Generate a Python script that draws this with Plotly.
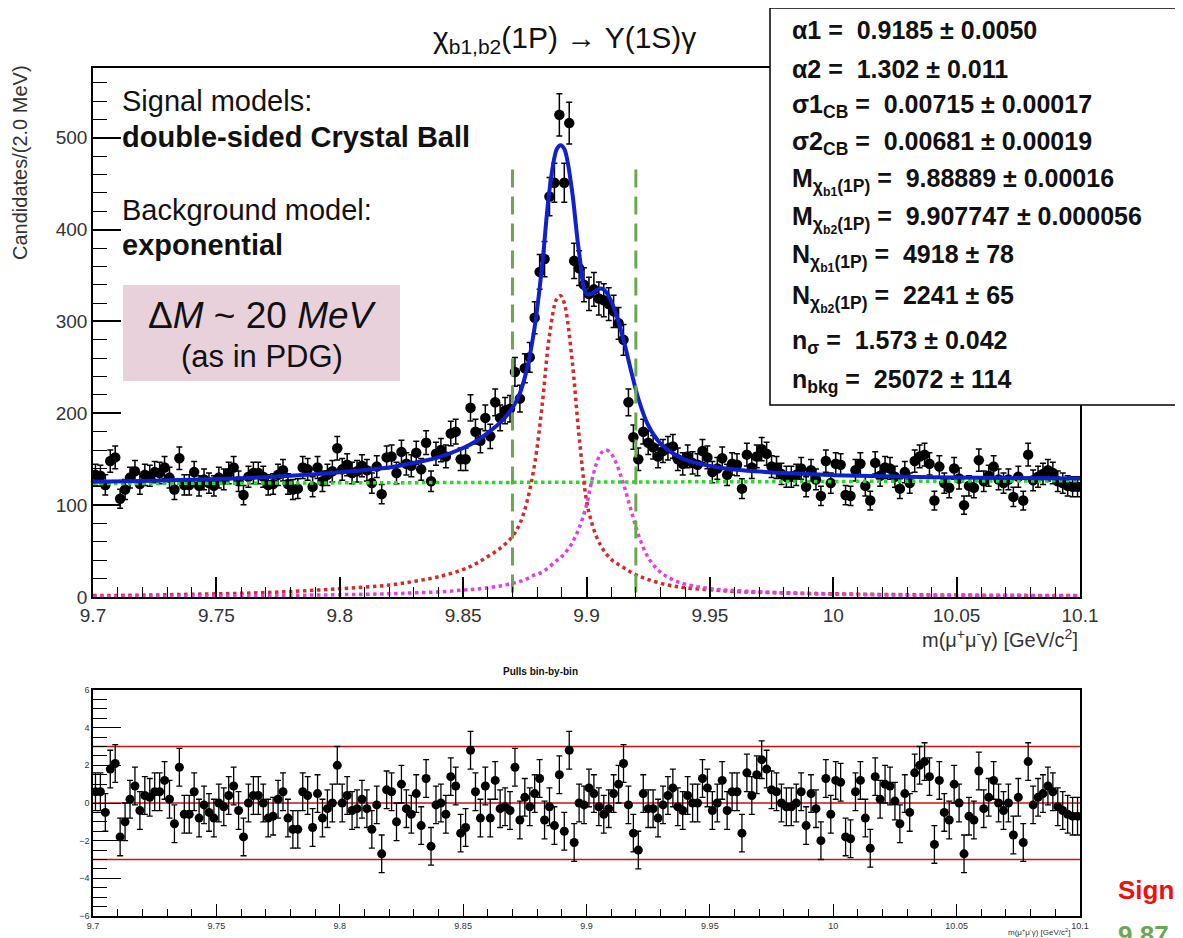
import plotly.graph_objects as go

# ---------------- data ----------------
bin_lo = 9.7
bin_width = 0.002
counts = [
    133, 132, 122, 148, 152, 107, 117, 130, 137, 123,
    133, 132, 136, 135, 141, 130, 117, 151, 122, 122,
    136, 121, 128, 124, 121, 130, 128, 135, 141, 126,
    111, 131, 135, 135, 131, 122, 123, 133, 138, 123,
    117, 118, 141, 139, 120, 141, 126, 133, 137, 162,
    139, 144, 135, 137, 143, 138, 124, 142, 112, 152,
    153, 135, 158, 145, 143, 157, 139, 168, 126, 156,
    160, 153, 178, 180, 150, 150, 206, 180, 170, 195,
    175, 212, 195, 203, 205, 245, 216, 249, 261, 304,
    354, 368, 436, 451, 525, 451, 516, 366, 358, 340,
    330, 335, 325, 323, 319, 311, 298, 280, 212, 174,
    150, 180, 168, 163, 153, 159, 162, 164, 150, 145,
    153, 146, 144, 159, 152, 136, 140, 151, 133, 145,
    144, 118, 155, 141, 153, 161, 156, 142, 141, 134,
    131, 131, 133, 140, 120, 138, 128, 110, 148, 124,
    145, 144, 111, 110, 138, 145, 121, 105, 146, 132,
    141, 140, 131, 118, 136, 124, 148, 153, 155, 145,
    105, 142, 124, 119, 140, 129, 100, 121, 119, 149,
    126, 132, 142, 128, 124, 128, 109, 131, 105, 155,
    127, 131, 134, 138, 135, 126, 124, 121, 120, 120,
]
pulls = [
    0.6, 0.6, -0.5, 1.8, 2.1, -1.8, -1.0, 0.2, 0.9, -0.4,
    0.4, 0.3, 0.6, 0.6, 1.2, 0.2, -1.1, 1.9, -0.6, -0.6,
    0.6, -0.8, -0.1, -0.5, -0.8, 0.0, -0.2, 0.4, 0.9, -0.4,
    -1.8, 0.0, 0.4, 0.4, 0.0, -0.8, -0.7, 0.2, 0.6, -0.8,
    -1.4, -1.4, 0.6, 0.4, -1.3, 0.5, -0.8, -0.3, 0.0, 2.0,
    0.0, 0.4, -0.4, -0.3, 0.2, -0.3, -1.4, -0.1, -2.7, 0.7,
    0.6, -1.0, 1.0, -0.3, -0.6, 0.5, -1.2, 1.3, -2.3, -0.1,
    0.0, -0.6, 1.4, 0.9, -1.6, -1.3, 2.8, 0.6, -0.8, 0.9,
    -0.8, 1.2, -0.3, -0.2, -0.4, 1.9, -0.9, 0.3, -0.2, 0.5,
    1.3, -0.9, -0.2, -1.2, 1.5, -1.5, 2.8, -2.1, 0.0, -0.1,
    0.8, 0.5, -0.2, -0.6, -0.3, 0.5, 1.0, 2.1, -0.1, -1.6,
    -2.5, 0.5, -0.3, -0.3, -0.8, -0.1, 0.4, 0.8, -0.2, -0.4,
    0.4, 0.0, 0.0, 1.3, 0.8, -0.4, 0.0, 1.2, -0.4, 0.6,
    0.6, -1.6, 1.6, 0.4, 1.5, 2.3, 1.8, 0.7, 0.6, 0.0,
    -0.2, -0.2, 0.0, 0.6, -1.2, 0.5, -0.3, -2.0, 1.3, -0.6,
    1.2, 1.1, -1.8, -1.9, 0.6, 1.2, -0.8, -2.4, 1.4, 0.2,
    1.0, 0.9, 0.1, -1.1, 0.5, -0.5, 1.6, 2.0, 2.2, 1.4,
    -2.2, 1.2, -0.5, -0.9, 1.0, 0.0, -2.7, -0.7, -0.9, 1.7,
    -0.3, 0.3, 1.2, 0.0, -0.4, 0.0, -1.7, 0.3, -2.1, 2.2,
    -0.1, 0.3, 0.5, 0.9, 0.6, -0.2, -0.4, -0.6, -0.7, -0.7,
]

fit_x = [9.70, 9.72, 9.74, 9.76, 9.78, 9.80, 9.82, 9.83, 9.84, 9.85,
         9.855, 9.86, 9.865, 9.87, 9.873, 9.876, 9.879, 9.882, 9.885, 9.888,
         9.8895, 9.891, 9.894, 9.897, 9.900, 9.902, 9.904, 9.906, 9.908, 9.910,
         9.912, 9.915, 9.918, 9.921, 9.925, 9.93, 9.935, 9.94, 9.95, 9.96,
         9.98, 10.00, 10.03, 10.06, 10.1]
chib1_curve = [1.5, 2.0, 3.0, 4.0, 6.0, 9.0, 13.0, 17.0, 22.0, 30.0,
               36.0, 44.0, 53.0, 66.0, 80.0, 105.0, 145.0, 208.0, 285.0, 325.0,
               328.0, 320.0, 262.0, 175.0, 105.0, 82.0, 66.0, 55.0, 47.0, 41.0,
               37.0, 32.0, 27.0, 23.0, 19.0, 15.0, 12.0, 10.0, 8.0, 6.0,
               4.5, 3.5, 2.5, 2.0, 1.5]
chib2_curve = [0.5, 0.7, 1.0, 1.3, 1.8, 2.5, 3.5, 4.5, 5.5, 7.5,
               8.5, 10.0, 12.0, 15.0, 17.0, 20.0, 24.0, 27.0, 33.0, 40.0,
               43.0, 47.0, 58.0, 75.0, 100.0, 125.0, 145.0, 157.0, 160.0, 156.0,
               146.0, 123.0, 95.0, 68.0, 43.0, 27.0, 19.0, 14.0, 9.0, 7.0,
               4.5, 3.0, 2.0, 1.5, 1.0]
bkg_curve = [123.5, 123.7, 123.8, 124.0, 124.1, 124.3, 124.5, 124.6, 124.6, 124.7,
             124.8, 124.8, 124.8, 124.9, 124.9, 124.9, 125.0, 125.0, 125.0, 125.1,
             125.1, 125.1, 125.1, 125.2, 125.2, 125.2, 125.2, 125.3, 125.3, 125.3,
             125.3, 125.3, 125.4, 125.4, 125.5, 125.5, 125.6, 125.6, 125.8, 125.9,
             126.0, 126.2, 126.3, 126.3, 126.5]
total_curve = [125.5, 126.4, 127.8, 129.3, 131.9, 135.8, 141.0, 146.1, 152.1, 162.2,
               169.3, 178.8, 189.8, 205.9, 221.9, 249.9, 294.0, 360.0, 443.0, 488.0,
               492.0, 488.0, 445.0, 375.0, 330.0, 330.0, 334.0, 336.0, 332.0, 322.0,
               308.0, 280.0, 247.0, 216.0, 187.0, 167.0, 156.5, 149.6, 142.8, 138.9,
               135.0, 132.7, 130.9, 129.8, 129.0]

window_edges = [9.87, 9.92]
window_y = [5, 470]
pull_levels = [-3, 0, 3]

x_ticks = [9.7, 9.75, 9.8, 9.85, 9.9, 9.95, 10.0, 10.05, 10.1]
x_tick_text = ["9.7", "9.75", "9.8", "9.85", "9.9", "9.95", "10", "10.05", "10.1"]

stat_lines = [
    "α1 =  0.9185 ± 0.0050",
    "α2 =  1.302 ± 0.011",
    "σ1<sub>CB</sub> =  0.00715 ± 0.00017",
    "σ2<sub>CB</sub> =  0.00681 ± 0.00019",
    "M<sub>χ<sub>b1</sub>(1P)</sub> =  9.88889 ± 0.00016",
    "M<sub>χ<sub>b2</sub>(1P)</sub> =  9.907747 ± 0.000056",
    "N<sub>χ<sub>b1</sub>(1P)</sub> =  4918 ± 78",
    "N<sub>χ<sub>b2</sub>(1P)</sub> =  2241 ± 65",
    "n<sub>σ</sub> =  1.573 ± 0.042",
    "n<sub>bkg</sub> =  25072 ± 114",
]

# ---------------- figure ----------------
W, H = 1183, 938
OFF = 8  # page body margin of the html page


def px(x):
    return (x - OFF) / W


def py(y):
    return 1 - (y - OFF) / H


centers = [bin_lo + bin_width * (i + 0.5) for i in range(len(counts))]
errs = [c ** 0.5 for c in counts]

FONT = "Liberation Sans, Arial, sans-serif"
fig = go.Figure()

fig.add_trace(go.Scatter(
    x=centers, y=counts, mode="markers",
    marker=dict(color="black", size=10.5),
    error_y=dict(type="data", array=errs, color="black", thickness=1.5, width=3),
    xaxis="x", yaxis="y", showlegend=False))

fig.add_trace(go.Scatter(x=fit_x, y=bkg_curve, mode="lines",
                         line=dict(color="#22dd22", width=3.5, dash="dot"),
                         xaxis="x", yaxis="y", showlegend=False))
fig.add_trace(go.Scatter(x=fit_x, y=chib1_curve, mode="lines", line_shape="spline",
                         line=dict(color="#d42a2a", width=3.5, dash="dot"),
                         xaxis="x", yaxis="y", showlegend=False))
fig.add_trace(go.Scatter(x=fit_x, y=chib2_curve, mode="lines", line_shape="spline",
                         line=dict(color="#e040e0", width=3.5, dash="dot"),
                         xaxis="x", yaxis="y", showlegend=False))
fig.add_trace(go.Scatter(x=fit_x, y=total_curve, mode="lines", line_shape="spline",
                         line=dict(color="#1020cc", width=4),
                         xaxis="x", yaxis="y", showlegend=False))
for xe in window_edges:
    fig.add_trace(go.Scatter(x=[xe, xe], y=window_y, mode="lines",
                             line=dict(color="#6aa84f", width=3, dash="18px,9px"),
                             xaxis="x", yaxis="y", showlegend=False))

# pulls
for lvl in pull_levels:
    fig.add_trace(go.Scatter(x=[x_ticks[0], x_ticks[-1]], y=[lvl, lvl], mode="lines",
                             line=dict(color="#cc1111", width=1.5),
                             xaxis="x2", yaxis="y2", showlegend=False))
fig.add_trace(go.Scatter(
    x=centers, y=pulls, mode="markers",
    marker=dict(color="black", size=9),
    error_y=dict(type="constant", value=1, color="black", thickness=1.3, width=3),
    xaxis="x2", yaxis="y2", showlegend=False))

axis_common = dict(showgrid=False, zeroline=False, showline=True, mirror=True,
                   linecolor="black", linewidth=1.5, ticks="inside", tickcolor="black",
                   automargin=False)

fig.update_layout(
    width=W, height=H, margin=dict(l=0, r=0, t=0, b=0, autoexpand=False),
    paper_bgcolor="white", plot_bgcolor="white",
    font=dict(family=FONT, color="#222"),
    xaxis=dict(domain=[px(93), px(1080)], range=[9.7, 10.1], anchor="y",
               tickvals=x_ticks, ticktext=x_tick_text, ticklen=20, tickwidth=1.5,
               tickfont=dict(size=19, family=FONT, color="#333"),
               minor=dict(ticks="inside", dtick=0.01, ticklen=10, tickcolor="black", tickwidth=1.2),
               **axis_common),
    yaxis=dict(domain=[py(597), py(68)], range=[0, 576], anchor="x",
               dtick=100, ticklen=28, tickwidth=1.5,
               tickfont=dict(size=19, family=FONT, color="#333"),
               minor=dict(ticks="inside", dtick=20, ticklen=14, tickcolor="black", tickwidth=1.2),
               **axis_common),
    xaxis2=dict(domain=[px(93), px(1080)], range=[9.7, 10.1], anchor="y2",
                tickvals=x_ticks, ticktext=x_tick_text, ticklen=12, tickwidth=1.2,
                tickfont=dict(size=9, family=FONT, color="#333"),
                minor=dict(ticks="inside", dtick=0.01, ticklen=7, tickcolor="black"),
                **axis_common),
    yaxis2=dict(domain=[py(916), py(690)], range=[-6, 6], anchor="x2",
                dtick=2, ticklen=28, tickwidth=1.2,
                tickfont=dict(size=9, family=FONT, color="#333"),
                minor=dict(ticks="inside", dtick=0.5, ticklen=14, tickcolor="black"),
                **axis_common),
)

shapes = [
    dict(type="rect", xref="paper", yref="paper", x0=px(123), x1=px(400), y0=py(381), y1=py(285),
         fillcolor="#e9d1dc", line=dict(width=0), layer="above"),
    dict(type="rect", xref="paper", yref="paper", x0=px(770), x1=px(1200), y0=py(405), y1=py(8),
         fillcolor="white", line=dict(color="black", width=1.5), layer="above"),
]
fig.update_layout(shapes=shapes)

ann = []


def add_text(text, x, y, size, xanchor="left", yanchor="middle", color="#111", angle=0):
    ann.append(dict(text=text, x=px(x), y=py(y), xref="paper", yref="paper",
                    xanchor=xanchor, yanchor=yanchor, showarrow=False, textangle=angle,
                    font=dict(size=size, family=FONT, color=color)))


add_text("χ<sub>b1,b2</sub>(1P) → Υ(1S)γ", 564, 40, 30, xanchor="center")
add_text("Candidates/(2.0 MeV)", 20, 163, 20, xanchor="center", color="#333", angle=-90)
add_text("m(μ<sup>+</sup>μ<sup>-</sup>γ) [GeV/c<sup>2</sup>]", 1080, 638, 20, xanchor="right", color="#333")
add_text("Signal models:", 120, 101, 29)
add_text("<b>double-sided Crystal Ball</b>", 120, 137, 29)
add_text("Background model:", 120, 210, 29)
add_text("<b>exponential</b>", 120, 245, 29)
add_text("Δ<i>M</i> ~ 20 <i>MeV</i>", 262, 315, 37, xanchor="center")
add_text("(as in PDG)", 262, 356, 31, xanchor="center")

stat_y = [30, 69, 106, 143, 181, 219, 258, 298, 342, 381]
for t, yy in zip(stat_lines, stat_y):
    add_text("<b>" + t + "</b>", 790, yy, 25)

add_text("<b>Pulls bin-by-bin</b>", 540, 671, 10, xanchor="center")
add_text("m(μ<sup>+</sup>μ<sup>-</sup>γ) [GeV/c<sup>2</sup>]", 1072, 932, 8, xanchor="right", color="#333")
add_text("<b>Sign</b>", 1116, 890, 26, color="#ee1111")
add_text("<b>9.87</b>", 1116, 918, 26, yanchor="top", color="#6aa84f")

fig.update_layout(annotations=ann)
fig.write_html("out.html")
